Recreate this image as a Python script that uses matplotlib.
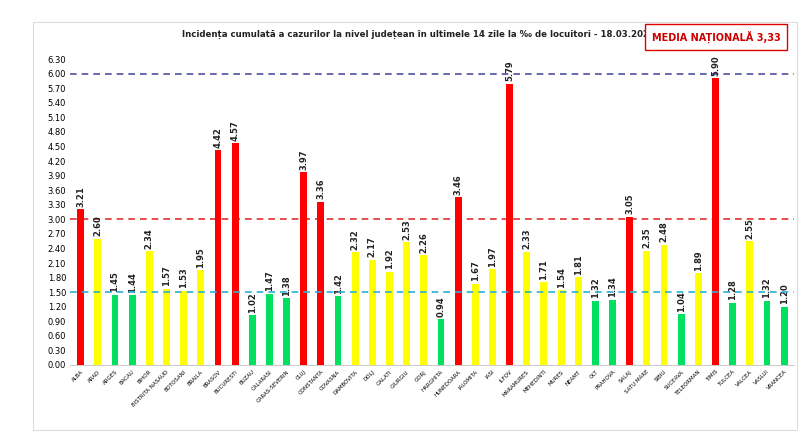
import matplotlib.pyplot as plt
import matplotlib.patches as mpatches

judete = ["ALBA", "ARAD", "ARGES", "BACAU", "BIHOR", "BISTRITA NASAUD", "BOTOSANI", "BRAILA",
          "BRASOV", "BUCURESTI", "BUZAU", "CALARASI", "CARAS-SEVERIN", "CLUJ", "CONSTANTA",
          "COVASNA", "DAMBOVITA", "DOLJ", "GALATI", "GIURGIU", "GORJ", "HARGHITA", "HUNEDOARA",
          "IALOMITA", "IASI", "ILFOV", "MARAMURES", "MEHEDINTI", "MURES", "NEAMT", "OLT",
          "PRAHOVA", "SALAJ", "SATU MARE", "SIBIU", "SUCEAVA", "TELEORMAN", "TIMIS", "TULCEA",
          "VALCEA", "VASLUI", "VRANCEA"]
incidenta = [3.21, 2.60, 1.45, 1.44, 2.34, 1.57, 1.53, 1.95, 4.42, 4.57, 1.02, 1.47, 1.38,
             3.97, 3.36, 1.42, 2.32, 2.17, 1.92, 2.53, 2.26, 0.94, 3.46, 1.67, 1.97, 5.79,
             2.33, 1.71, 1.54, 1.81, 1.32, 1.34, 3.05, 2.35, 2.48, 1.04, 1.89, 5.90, 1.28,
             2.55, 1.32, 1.20]
praguri = [1.5, 3.0, 6.0]
media = "3,33"


def culoare(v):
    if v > 3:
        return "#ff0000"
    if v >= 1.5:
        return "#ffff00"
    return "#00e060"


fig = plt.figure(figsize=(8, 4.34), dpi=100)
fig.patches.append(mpatches.Rectangle((0.041, 0.01), 0.955, 0.94, transform=fig.transFigure,
                                      fill=False, edgecolor="#dddddd", linewidth=0.8))
ax = fig.add_axes([0.088, 0.159, 0.905, 0.705])

x = range(len(judete))
ax.bar(x, incidenta, width=0.4, color=[culoare(v) for v in incidenta], zorder=3)
for i, v in enumerate(incidenta):
    ax.text(i, v + 0.05, f"{v:.2f}", rotation=90, ha="center", va="bottom",
            fontsize=6, fontweight="bold", color="#222222", zorder=4)

ax.axhline(praguri[0], color="#2ab0d8", linestyle=(0, (4, 3)), linewidth=1.2, zorder=5)
ax.axhline(praguri[1], color="#e03030", linestyle=(0, (4, 3)), linewidth=1.2, zorder=2)
ax.axhline(praguri[2], color="#5050a0", linestyle=(0, (4, 3)), linewidth=1.2, zorder=2)

ax.set_xlim(-0.6, len(judete) - 0.4)
ax.set_ylim(0, 6.3)
ax.set_yticks([i * 0.3 for i in range(22)])
ax.set_yticklabels([f"{i * 0.3:.2f}" for i in range(22)], fontsize=6)
ax.set_xticks(list(x))
ax.set_xticklabels(judete, rotation=45, ha="right", rotation_mode="anchor", fontsize=4)
ax.tick_params(length=0, pad=3)
for s in ax.spines.values():
    s.set_visible(False)
ax.spines["bottom"].set_visible(True)
ax.spines["bottom"].set_color("#cccccc")

fig.text(0.526, 0.915, "Incidența cumulată a cazurilor la nivel județean în ultimele 14 zile la ‰ de locuitori - 18.03.2021*",
         ha="center", fontsize=6.2, fontweight="bold", color="#222222")
fig.text(0.895, 0.905, "MEDIA NAȚIONALĂ " + media, ha="center", fontsize=7, fontweight="bold",
         color="#cc0000",
         bbox=dict(facecolor="white", edgecolor="#dd0000", linewidth=1, pad=5))

fig.savefig("out.png", dpi=100)
